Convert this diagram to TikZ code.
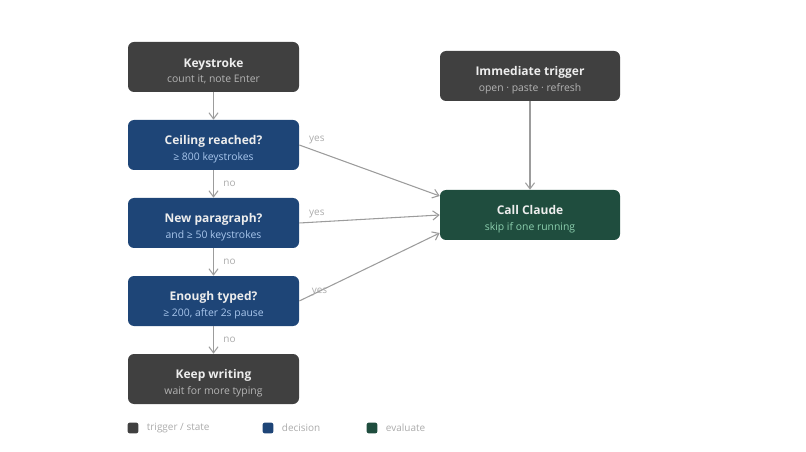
\documentclass[tikz,border=0pt]{standalone}
\usepackage{fontspec}
\setmainfont{Open Sans}
\usetikzlibrary{arrows.meta,positioning}

\definecolor{stategray}{HTML}{404040}
\definecolor{decblue}{HTML}{1E4577}
\definecolor{evalgreen}{HTML}{1F4D3E}
\definecolor{subgray}{HTML}{B4B4B4}
\definecolor{subblue}{HTML}{A8C6EC}
\definecolor{subgreen}{HTML}{8CCFAE}
\definecolor{titlewhite}{HTML}{EDEDED}
\definecolor{linegray}{HTML}{9C9C9C}
\definecolor{labelgray}{HTML}{ABABAB}

\newcommand{\boxtxt}[3]{\rule{0pt}{13pt}{\fontsize{9}{12}\selectfont\bfseries\color{titlewhite}#1}\\[-0.5pt]{\fontsize{7.8}{9}\selectfont\color{#3}#2}}

\begin{document}
\begin{tikzpicture}[
          x=0.75pt, y=-0.75pt,
          node distance=20.6pt and 21pt,
          box/.style={rounded corners=4.5pt, align=center, minimum height=37.5pt, minimum width=128.25pt, inner sep=0pt},
          statebox/.style={box, fill=stategray},
          decbox/.style={box, fill=decblue},
          evalbox/.style={box, fill=evalgreen, minimum width=135pt},
          arr/.style={-{Straight Barb[length=1.6mm, width=2.4mm]}, linegray, line width=0.8pt},
          lbl/.style={font=\fontsize{7.5}{9}\selectfont, text=labelgray, inner sep=1pt},
          swatch/.style={rounded corners=1.5pt, minimum size=8pt, inner sep=0pt},
          legtxt/.style={font=\fontsize{7.5}{9}\selectfont, text=labelgray, anchor=west, inner sep=0pt}
        ]
        \useasboundingbox (0,0) rectangle (806,452);
        % left column
        \node[statebox] (key) at (213.5,67) {\boxtxt{Keystroke}{count it, note Enter}{subgray}};
        \node[decbox, below=of key] (ceil) {\boxtxt{Ceiling reached?}{≥ 800 keystrokes}{subblue}};
        \node[decbox, below=of ceil] (para) {\boxtxt{New paragraph?}{and ≥ 50 keystrokes}{subblue}};
        \node[decbox, below=of para] (enough) {\boxtxt{Enough typed?}{≥ 200, after 2s pause}{subblue}};
        \node[statebox, below=of enough] (keep) {\boxtxt{Keep writing}{wait for more typing}{subgray}};
        % right column
        \node[statebox, minimum width=135pt] (imm) at (530,76) {\boxtxt{Immediate trigger}{open · paste · refresh}{subgray}};
        \node[evalbox] (claude) at (530,215) {\boxtxt{Call Claude}{skip if one running}{subgreen}};
        % flow
        \draw[arr] (key) -- (ceil);
        \draw[arr] (ceil) -- node[lbl, right=6pt] {no} (para);
        \draw[arr] (para) -- node[lbl, right=6pt] {no} (enough);
        \draw[arr] (enough) -- node[lbl, right=6pt] {no} (keep);
        \draw[arr] (ceil.east) -- (claude.west |- 0,196) node[lbl, pos=0, above right=-0.5pt and 6pt] {yes};
        \draw[arr] (para.east) -- (claude.west) node[lbl, pos=0, above right=2.5pt and 6pt] {yes};
        \draw[arr] (enough.east) -- (claude.west |- 0,233) node[lbl, pos=0, above right=2.5pt and 8pt] {yes};
        \draw[arr] (imm) -- (claude);
        % legend
        \node[swatch, fill=stategray] (l1) at (133,428) {};
        \node[legtxt, right=6pt of l1] {trigger / state};
        \node[swatch, fill=decblue] (l2) at (268,428) {};
        \node[legtxt, right=6pt of l2] {decision};
        \node[swatch, fill=evalgreen] (l3) at (372,428) {};
        \node[legtxt, right=6pt of l3] {evaluate};
      \end{tikzpicture}
\end{document}
